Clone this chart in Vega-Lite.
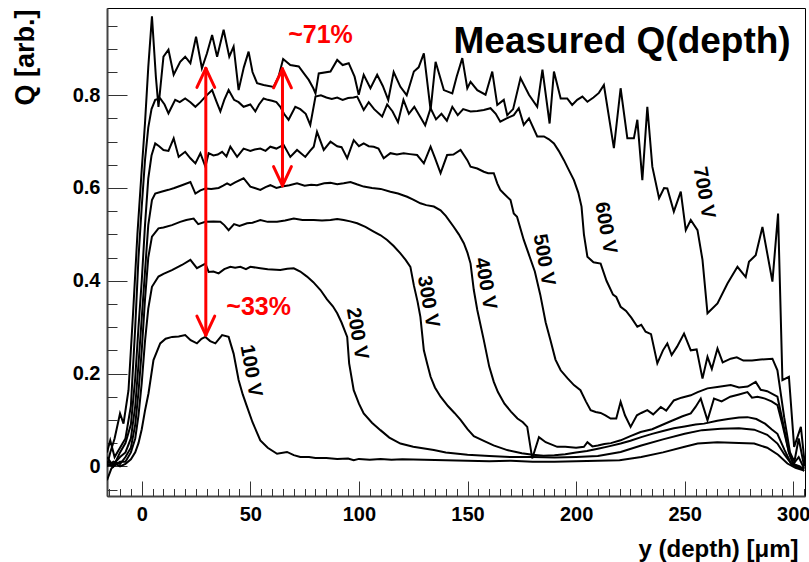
{
  "$schema": "https://vega.github.io/schema/vega-lite/v6.json",
  "width": 698,
  "height": 488,
  "autosize": {"type": "none"},
  "padding": {"left": 107, "top": 8, "right": 4, "bottom": 66},
  "background": "white",
  "config": {"view": {"stroke": "black", "strokeWidth": 1}, "font": "Liberation Sans"},
  "resolve": {"axis": {"x": "independent", "y": "independent"}},
  "datasets": {
    "curves": [
      {"bias":"100 V","depth":-16,"q":-0.03},{"bias":"100 V","depth":-14,"q":-0.005},{"bias":"100 V","depth":-12,"q":0.005},{"bias":"100 V","depth":-10,"q":0.0},{"bias":"100 V","depth":-7.5,"q":0.005},{"bias":"100 V","depth":-5,"q":0.015},{"bias":"100 V","depth":-3,"q":0.03},{"bias":"100 V","depth":-1.5,"q":0.05},{"bias":"100 V","depth":0,"q":0.08},{"bias":"100 V","depth":1.5,"q":0.12},{"bias":"100 V","depth":3.1,"q":0.157},{"bias":"100 V","depth":5.4,"q":0.229},{"bias":"100 V","depth":8.5,"q":0.265},{"bias":"100 V","depth":11,"q":0.275},{"bias":"100 V","depth":14,"q":0.279},{"bias":"100 V","depth":17,"q":0.28},{"bias":"100 V","depth":20,"q":0.283},{"bias":"100 V","depth":22.5,"q":0.272},{"bias":"100 V","depth":25.4,"q":0.265},{"bias":"100 V","depth":27.5,"q":0.275},{"bias":"100 V","depth":29.3,"q":0.279},{"bias":"100 V","depth":31.5,"q":0.27},{"bias":"100 V","depth":33.9,"q":0.265},{"bias":"100 V","depth":37,"q":0.283},{"bias":"100 V","depth":40,"q":0.279},{"bias":"100 V","depth":42.3,"q":0.243},{"bias":"100 V","depth":44.6,"q":0.186},{"bias":"100 V","depth":46.5,"q":0.155},{"bias":"100 V","depth":48.5,"q":0.128},{"bias":"100 V","depth":51,"q":0.095},{"bias":"100 V","depth":54.6,"q":0.056},{"bias":"100 V","depth":58,"q":0.04},{"bias":"100 V","depth":62.3,"q":0.027},{"bias":"100 V","depth":66.9,"q":0.031},{"bias":"100 V","depth":70,"q":0.024},{"bias":"100 V","depth":73,"q":0.02},{"bias":"100 V","depth":77,"q":0.02},{"bias":"100 V","depth":80,"q":0.018},{"bias":"100 V","depth":85,"q":0.018},{"bias":"100 V","depth":90,"q":0.016},{"bias":"100 V","depth":95,"q":0.017},{"bias":"100 V","depth":97.6,"q":0.013},{"bias":"100 V","depth":100,"q":0.016},{"bias":"100 V","depth":105,"q":0.014},{"bias":"100 V","depth":110,"q":0.016},{"bias":"100 V","depth":115,"q":0.014},{"bias":"100 V","depth":120,"q":0.015},{"bias":"100 V","depth":130,"q":0.014},{"bias":"100 V","depth":140,"q":0.013},{"bias":"100 V","depth":150,"q":0.012},{"bias":"100 V","depth":160,"q":0.011},{"bias":"100 V","depth":170,"q":0.012},{"bias":"100 V","depth":180,"q":0.01},{"bias":"100 V","depth":190,"q":0.01},{"bias":"100 V","depth":200,"q":0.011},{"bias":"100 V","depth":210,"q":0.012},{"bias":"100 V","depth":220,"q":0.013},{"bias":"100 V","depth":230,"q":0.02},{"bias":"100 V","depth":240,"q":0.03},{"bias":"100 V","depth":250,"q":0.042},{"bias":"100 V","depth":256,"q":0.049},{"bias":"100 V","depth":265,"q":0.052},{"bias":"100 V","depth":275,"q":0.05},{"bias":"100 V","depth":282,"q":0.049},{"bias":"100 V","depth":288,"q":0.04},{"bias":"100 V","depth":293,"q":0.025},{"bias":"100 V","depth":297.3,"q":0.006},{"bias":"100 V","depth":301,"q":-0.003},{"bias":"100 V","depth":305,"q":-0.009},

      {"bias":"200 V","depth":-16,"q":0.005},{"bias":"200 V","depth":-13,"q":0.0},{"bias":"200 V","depth":-10,"q":0.01},{"bias":"200 V","depth":-7.5,"q":0.01},{"bias":"200 V","depth":-5,"q":0.03},{"bias":"200 V","depth":-3,"q":0.06},{"bias":"200 V","depth":-1.5,"q":0.11},{"bias":"200 V","depth":0,"q":0.18},{"bias":"200 V","depth":1.5,"q":0.27},{"bias":"200 V","depth":3,"q":0.34},{"bias":"200 V","depth":4.7,"q":0.387},{"bias":"200 V","depth":7.7,"q":0.409},{"bias":"200 V","depth":10,"q":0.415},{"bias":"200 V","depth":13.9,"q":0.423},{"bias":"200 V","depth":18.5,"q":0.434},{"bias":"200 V","depth":22.4,"q":0.445},{"bias":"200 V","depth":25.4,"q":0.427},{"bias":"200 V","depth":29.3,"q":0.437},{"bias":"200 V","depth":30.8,"q":0.419},{"bias":"200 V","depth":33,"q":0.42},{"bias":"200 V","depth":35.4,"q":0.416},{"bias":"200 V","depth":38,"q":0.425},{"bias":"200 V","depth":40.8,"q":0.43},{"bias":"200 V","depth":43,"q":0.428},{"bias":"200 V","depth":45.4,"q":0.43},{"bias":"200 V","depth":48,"q":0.425},{"bias":"200 V","depth":50,"q":0.43},{"bias":"200 V","depth":54.6,"q":0.427},{"bias":"200 V","depth":58,"q":0.425},{"bias":"200 V","depth":63.8,"q":0.423},{"bias":"200 V","depth":67,"q":0.426},{"bias":"200 V","depth":70,"q":0.427},{"bias":"200 V","depth":73,"q":0.42},{"bias":"200 V","depth":76.1,"q":0.409},{"bias":"200 V","depth":79,"q":0.397},{"bias":"200 V","depth":82.3,"q":0.38},{"bias":"200 V","depth":85.3,"q":0.36},{"bias":"200 V","depth":88,"q":0.345},{"bias":"200 V","depth":90,"q":0.33},{"bias":"200 V","depth":92,"q":0.31},{"bias":"200 V","depth":94.6,"q":0.279},{"bias":"200 V","depth":95.5,"q":0.222},{"bias":"200 V","depth":97.6,"q":0.164},{"bias":"200 V","depth":100,"q":0.135},{"bias":"200 V","depth":102.2,"q":0.114},{"bias":"200 V","depth":106,"q":0.094},{"bias":"200 V","depth":109.9,"q":0.078},{"bias":"200 V","depth":114,"q":0.062},{"bias":"200 V","depth":119.1,"q":0.049},{"bias":"200 V","depth":125,"q":0.042},{"bias":"200 V","depth":134.5,"q":0.035},{"bias":"200 V","depth":140,"q":0.03},{"bias":"200 V","depth":150,"q":0.025},{"bias":"200 V","depth":160,"q":0.022},{"bias":"200 V","depth":170,"q":0.02},{"bias":"200 V","depth":180,"q":0.02},{"bias":"200 V","depth":190,"q":0.019},{"bias":"200 V","depth":200,"q":0.02},{"bias":"200 V","depth":210,"q":0.022},{"bias":"200 V","depth":220.5,"q":0.031},{"bias":"200 V","depth":230,"q":0.045},{"bias":"200 V","depth":240,"q":0.058},{"bias":"200 V","depth":250,"q":0.07},{"bias":"200 V","depth":258,"q":0.078},{"bias":"200 V","depth":266.6,"q":0.081},{"bias":"200 V","depth":275,"q":0.082},{"bias":"200 V","depth":282,"q":0.079},{"bias":"200 V","depth":288,"q":0.068},{"bias":"200 V","depth":292.7,"q":0.049},{"bias":"200 V","depth":296,"q":0.025},{"bias":"200 V","depth":299,"q":0.006},{"bias":"200 V","depth":302,"q":-0.002},{"bias":"200 V","depth":305,"q":-0.005},

      {"bias":"300 V","depth":-16,"q":0.0},{"bias":"300 V","depth":-13,"q":0.01},{"bias":"300 V","depth":-10,"q":0.005},{"bias":"300 V","depth":-7.5,"q":0.02},{"bias":"300 V","depth":-5,"q":0.04},{"bias":"300 V","depth":-3,"q":0.09},{"bias":"300 V","depth":-1.5,"q":0.16},{"bias":"300 V","depth":0,"q":0.25},{"bias":"300 V","depth":1.5,"q":0.36},{"bias":"300 V","depth":3,"q":0.45},{"bias":"300 V","depth":4.7,"q":0.495},{"bias":"300 V","depth":7.7,"q":0.513},{"bias":"300 V","depth":10,"q":0.515},{"bias":"300 V","depth":13.9,"q":0.52},{"bias":"300 V","depth":17.7,"q":0.527},{"bias":"300 V","depth":20.5,"q":0.531},{"bias":"300 V","depth":23.9,"q":0.534},{"bias":"300 V","depth":26,"q":0.522},{"bias":"300 V","depth":29.3,"q":0.527},{"bias":"300 V","depth":33,"q":0.528},{"bias":"300 V","depth":36.2,"q":0.527},{"bias":"300 V","depth":38,"q":0.52},{"bias":"300 V","depth":40,"q":0.509},{"bias":"300 V","depth":42.5,"q":0.522},{"bias":"300 V","depth":45,"q":0.518},{"bias":"300 V","depth":48.5,"q":0.524},{"bias":"300 V","depth":51,"q":0.525},{"bias":"300 V","depth":54.6,"q":0.531},{"bias":"300 V","depth":58,"q":0.527},{"bias":"300 V","depth":62.3,"q":0.527},{"bias":"300 V","depth":66,"q":0.53},{"bias":"300 V","depth":70,"q":0.534},{"bias":"300 V","depth":74,"q":0.531},{"bias":"300 V","depth":79.2,"q":0.531},{"bias":"300 V","depth":83,"q":0.53},{"bias":"300 V","depth":86.9,"q":0.531},{"bias":"300 V","depth":90,"q":0.533},{"bias":"300 V","depth":93,"q":0.531},{"bias":"300 V","depth":96,"q":0.528},{"bias":"300 V","depth":99.2,"q":0.524},{"bias":"300 V","depth":103,"q":0.516},{"bias":"300 V","depth":106.8,"q":0.506},{"bias":"300 V","depth":110,"q":0.498},{"bias":"300 V","depth":113,"q":0.488},{"bias":"300 V","depth":116,"q":0.475},{"bias":"300 V","depth":119.1,"q":0.459},{"bias":"300 V","depth":121.5,"q":0.445},{"bias":"300 V","depth":123.7,"q":0.43},{"bias":"300 V","depth":125.3,"q":0.39},{"bias":"300 V","depth":127,"q":0.355},{"bias":"300 V","depth":128.3,"q":0.322},{"bias":"300 V","depth":129.9,"q":0.25},{"bias":"300 V","depth":131.5,"q":0.22},{"bias":"300 V","depth":133,"q":0.193},{"bias":"300 V","depth":135,"q":0.17},{"bias":"300 V","depth":137.6,"q":0.15},{"bias":"300 V","depth":141,"q":0.13},{"bias":"300 V","depth":144,"q":0.115},{"bias":"300 V","depth":146.8,"q":0.1},{"bias":"300 V","depth":150,"q":0.08},{"bias":"300 V","depth":152.9,"q":0.065},{"bias":"300 V","depth":157.5,"q":0.055},{"bias":"300 V","depth":162,"q":0.045},{"bias":"300 V","depth":168.3,"q":0.035},{"bias":"300 V","depth":175,"q":0.028},{"bias":"300 V","depth":180,"q":0.025},{"bias":"300 V","depth":185,"q":0.023},{"bias":"300 V","depth":190,"q":0.024},{"bias":"300 V","depth":195,"q":0.026},{"bias":"300 V","depth":200,"q":0.03},{"bias":"300 V","depth":205,"q":0.033},{"bias":"300 V","depth":210,"q":0.038},{"bias":"300 V","depth":215,"q":0.043},{"bias":"300 V","depth":220.5,"q":0.049},{"bias":"300 V","depth":225,"q":0.055},{"bias":"300 V","depth":230,"q":0.063},{"bias":"300 V","depth":235,"q":0.07},{"bias":"300 V","depth":240,"q":0.076},{"bias":"300 V","depth":245,"q":0.082},{"bias":"300 V","depth":250,"q":0.086},{"bias":"300 V","depth":255,"q":0.09},{"bias":"300 V","depth":258.9,"q":0.092},{"bias":"300 V","depth":265,"q":0.098},{"bias":"300 V","depth":270,"q":0.102},{"bias":"300 V","depth":275,"q":0.105},{"bias":"300 V","depth":278.9,"q":0.106},{"bias":"300 V","depth":283,"q":0.102},{"bias":"300 V","depth":287,"q":0.092},{"bias":"300 V","depth":290,"q":0.08},{"bias":"300 V","depth":292.7,"q":0.07},{"bias":"300 V","depth":296,"q":0.035},{"bias":"300 V","depth":299,"q":0.006},{"bias":"300 V","depth":302,"q":0.0},{"bias":"300 V","depth":305,"q":-0.005},

      {"bias":"400 V","depth":-16,"q":0.01},{"bias":"400 V","depth":-13,"q":0.005},{"bias":"400 V","depth":-10,"q":0.02},{"bias":"400 V","depth":-7.5,"q":0.03},{"bias":"400 V","depth":-5,"q":0.06},{"bias":"400 V","depth":-3,"q":0.13},{"bias":"400 V","depth":-1.5,"q":0.22},{"bias":"400 V","depth":0,"q":0.32},{"bias":"400 V","depth":1.5,"q":0.42},{"bias":"400 V","depth":3,"q":0.52},{"bias":"400 V","depth":4.7,"q":0.574},{"bias":"400 V","depth":6.2,"q":0.588},{"bias":"400 V","depth":9,"q":0.592},{"bias":"400 V","depth":12.3,"q":0.596},{"bias":"400 V","depth":15,"q":0.6},{"bias":"400 V","depth":18.5,"q":0.606},{"bias":"400 V","depth":22.4,"q":0.613},{"bias":"400 V","depth":24.7,"q":0.588},{"bias":"400 V","depth":27,"q":0.595},{"bias":"400 V","depth":29.3,"q":0.599},{"bias":"400 V","depth":32,"q":0.598},{"bias":"400 V","depth":35.4,"q":0.6},{"bias":"400 V","depth":37.5,"q":0.605},{"bias":"400 V","depth":39.3,"q":0.61},{"bias":"400 V","depth":40.8,"q":0.606},{"bias":"400 V","depth":43,"q":0.612},{"bias":"400 V","depth":46.9,"q":0.621},{"bias":"400 V","depth":50,"q":0.603},{"bias":"400 V","depth":52,"q":0.6},{"bias":"400 V","depth":54.6,"q":0.596},{"bias":"400 V","depth":57,"q":0.602},{"bias":"400 V","depth":59.2,"q":0.606},{"bias":"400 V","depth":62,"q":0.6},{"bias":"400 V","depth":64.6,"q":0.603},{"bias":"400 V","depth":68,"q":0.606},{"bias":"400 V","depth":71.5,"q":0.61},{"bias":"400 V","depth":75,"q":0.605},{"bias":"400 V","depth":78,"q":0.607},{"bias":"400 V","depth":80.7,"q":0.606},{"bias":"400 V","depth":84,"q":0.61},{"bias":"400 V","depth":86.9,"q":0.611},{"bias":"400 V","depth":90,"q":0.608},{"bias":"400 V","depth":93,"q":0.61},{"bias":"400 V","depth":96.1,"q":0.613},{"bias":"400 V","depth":99,"q":0.608},{"bias":"400 V","depth":102.2,"q":0.603},{"bias":"400 V","depth":106,"q":0.6},{"bias":"400 V","depth":110,"q":0.598},{"bias":"400 V","depth":114.5,"q":0.592},{"bias":"400 V","depth":118,"q":0.588},{"bias":"400 V","depth":122.2,"q":0.581},{"bias":"400 V","depth":125,"q":0.575},{"bias":"400 V","depth":128.3,"q":0.567},{"bias":"400 V","depth":131,"q":0.563},{"bias":"400 V","depth":134.5,"q":0.56},{"bias":"400 V","depth":137.6,"q":0.552},{"bias":"400 V","depth":140,"q":0.54},{"bias":"400 V","depth":143.7,"q":0.516},{"bias":"400 V","depth":146,"q":0.5},{"bias":"400 V","depth":148.3,"q":0.481},{"bias":"400 V","depth":150,"q":0.46},{"bias":"400 V","depth":151.4,"q":0.437},{"bias":"400 V","depth":152.9,"q":0.38},{"bias":"400 V","depth":154.5,"q":0.337},{"bias":"400 V","depth":157.5,"q":0.272},{"bias":"400 V","depth":160,"q":0.215},{"bias":"400 V","depth":162.1,"q":0.182},{"bias":"400 V","depth":164,"q":0.16},{"bias":"400 V","depth":167,"q":0.135},{"bias":"400 V","depth":170,"q":0.118},{"bias":"400 V","depth":173,"q":0.103},{"bias":"400 V","depth":175.5,"q":0.095},{"bias":"400 V","depth":177.5,"q":0.085},{"bias":"400 V","depth":179.8,"q":0.017},{"bias":"400 V","depth":182.9,"q":0.063},{"bias":"400 V","depth":186,"q":0.052},{"bias":"400 V","depth":191.3,"q":0.042},{"bias":"400 V","depth":195,"q":0.042},{"bias":"400 V","depth":200,"q":0.04},{"bias":"400 V","depth":203.6,"q":0.042},{"bias":"400 V","depth":205.2,"q":0.052},{"bias":"400 V","depth":207.5,"q":0.043},{"bias":"400 V","depth":210,"q":0.045},{"bias":"400 V","depth":213,"q":0.048},{"bias":"400 V","depth":216,"q":0.05},{"bias":"400 V","depth":220.5,"q":0.056},{"bias":"400 V","depth":225,"q":0.065},{"bias":"400 V","depth":229.7,"q":0.074},{"bias":"400 V","depth":235,"q":0.08},{"bias":"400 V","depth":239,"q":0.088},{"bias":"400 V","depth":243,"q":0.096},{"bias":"400 V","depth":246,"q":0.102},{"bias":"400 V","depth":249,"q":0.108},{"bias":"400 V","depth":252.8,"q":0.114},{"bias":"400 V","depth":255,"q":0.128},{"bias":"400 V","depth":257.4,"q":0.146},{"bias":"400 V","depth":260.5,"q":0.099},{"bias":"400 V","depth":263.5,"q":0.146},{"bias":"400 V","depth":267,"q":0.14},{"bias":"400 V","depth":271,"q":0.15},{"bias":"400 V","depth":275,"q":0.155},{"bias":"400 V","depth":278.9,"q":0.16},{"bias":"400 V","depth":281,"q":0.148},{"bias":"400 V","depth":283.5,"q":0.15},{"bias":"400 V","depth":287,"q":0.146},{"bias":"400 V","depth":290,"q":0.14},{"bias":"400 V","depth":292.7,"q":0.132},{"bias":"400 V","depth":295,"q":0.09},{"bias":"400 V","depth":298,"q":0.03},{"bias":"400 V","depth":300,"q":0.005},{"bias":"400 V","depth":303,"q":0.0},{"bias":"400 V","depth":305,"q":-0.01},

      {"bias":"500 V","depth":-16,"q":0.02},{"bias":"500 V","depth":-13,"q":0.0},{"bias":"500 V","depth":-10,"q":0.03},{"bias":"500 V","depth":-7.5,"q":0.05},{"bias":"500 V","depth":-5,"q":0.09},{"bias":"500 V","depth":-3,"q":0.19},{"bias":"500 V","depth":-1.5,"q":0.3},{"bias":"500 V","depth":0,"q":0.4},{"bias":"500 V","depth":1.5,"q":0.52},{"bias":"500 V","depth":3,"q":0.62},{"bias":"500 V","depth":4.5,"q":0.67},{"bias":"500 V","depth":6.2,"q":0.696},{"bias":"500 V","depth":8,"q":0.69},{"bias":"500 V","depth":10,"q":0.682},{"bias":"500 V","depth":12.3,"q":0.68},{"bias":"500 V","depth":14.7,"q":0.707},{"bias":"500 V","depth":17,"q":0.667},{"bias":"500 V","depth":20,"q":0.678},{"bias":"500 V","depth":22.4,"q":0.664},{"bias":"500 V","depth":24.7,"q":0.653},{"bias":"500 V","depth":27,"q":0.675},{"bias":"500 V","depth":29.3,"q":0.646},{"bias":"500 V","depth":30.8,"q":0.675},{"bias":"500 V","depth":33,"q":0.67},{"bias":"500 V","depth":35,"q":0.672},{"bias":"500 V","depth":37,"q":0.678},{"bias":"500 V","depth":39,"q":0.668},{"bias":"500 V","depth":40.8,"q":0.689},{"bias":"500 V","depth":43.9,"q":0.667},{"bias":"500 V","depth":46.9,"q":0.685},{"bias":"500 V","depth":50,"q":0.68},{"bias":"500 V","depth":52,"q":0.683},{"bias":"500 V","depth":54.6,"q":0.685},{"bias":"500 V","depth":57,"q":0.68},{"bias":"500 V","depth":59.2,"q":0.689},{"bias":"500 V","depth":62,"q":0.685},{"bias":"500 V","depth":65.3,"q":0.693},{"bias":"500 V","depth":68.4,"q":0.667},{"bias":"500 V","depth":71.5,"q":0.682},{"bias":"500 V","depth":75.3,"q":0.667},{"bias":"500 V","depth":77.5,"q":0.68},{"bias":"500 V","depth":79.2,"q":0.689},{"bias":"500 V","depth":80.7,"q":0.721},{"bias":"500 V","depth":83.8,"q":0.682},{"bias":"500 V","depth":86.9,"q":0.7},{"bias":"500 V","depth":90,"q":0.69},{"bias":"500 V","depth":92,"q":0.688},{"bias":"500 V","depth":94.6,"q":0.664},{"bias":"500 V","depth":97.6,"q":0.703},{"bias":"500 V","depth":100,"q":0.69},{"bias":"500 V","depth":102.2,"q":0.696},{"bias":"500 V","depth":104.5,"q":0.69},{"bias":"500 V","depth":106.8,"q":0.689},{"bias":"500 V","depth":109,"q":0.685},{"bias":"500 V","depth":111.4,"q":0.664},{"bias":"500 V","depth":114.5,"q":0.675},{"bias":"500 V","depth":117.5,"q":0.672},{"bias":"500 V","depth":120.6,"q":0.675},{"bias":"500 V","depth":123.5,"q":0.673},{"bias":"500 V","depth":126.8,"q":0.671},{"bias":"500 V","depth":129.9,"q":0.653},{"bias":"500 V","depth":133,"q":0.689},{"bias":"500 V","depth":135,"q":0.665},{"bias":"500 V","depth":137.6,"q":0.632},{"bias":"500 V","depth":140.6,"q":0.671},{"bias":"500 V","depth":143.5,"q":0.672},{"bias":"500 V","depth":146.8,"q":0.682},{"bias":"500 V","depth":149.9,"q":0.66},{"bias":"500 V","depth":151.4,"q":0.646},{"bias":"500 V","depth":154.5,"q":0.642},{"bias":"500 V","depth":157.5,"q":0.635},{"bias":"500 V","depth":159.5,"q":0.632},{"bias":"500 V","depth":162.1,"q":0.632},{"bias":"500 V","depth":163.7,"q":0.61},{"bias":"500 V","depth":165.1,"q":0.596},{"bias":"500 V","depth":166.7,"q":0.588},{"bias":"500 V","depth":169.8,"q":0.574},{"bias":"500 V","depth":171.3,"q":0.545},{"bias":"500 V","depth":172.8,"q":0.538},{"bias":"500 V","depth":175.9,"q":0.488},{"bias":"500 V","depth":178,"q":0.46},{"bias":"500 V","depth":181,"q":0.42},{"bias":"500 V","depth":183.5,"q":0.37},{"bias":"500 V","depth":186,"q":0.31},{"bias":"500 V","depth":188.2,"q":0.272},{"bias":"500 V","depth":190.5,"q":0.23},{"bias":"500 V","depth":192.9,"q":0.207},{"bias":"500 V","depth":196,"q":0.19},{"bias":"500 V","depth":199,"q":0.175},{"bias":"500 V","depth":202,"q":0.164},{"bias":"500 V","depth":204.5,"q":0.14},{"bias":"500 V","depth":206.7,"q":0.121},{"bias":"500 V","depth":209,"q":0.117},{"bias":"500 V","depth":211.3,"q":0.115},{"bias":"500 V","depth":213.5,"q":0.11},{"bias":"500 V","depth":215.9,"q":0.103},{"bias":"500 V","depth":218.5,"q":0.103},{"bias":"500 V","depth":220.5,"q":0.139},{"bias":"500 V","depth":222.5,"q":0.11},{"bias":"500 V","depth":225.1,"q":0.085},{"bias":"500 V","depth":228,"q":0.11},{"bias":"500 V","depth":230,"q":0.115},{"bias":"500 V","depth":232.8,"q":0.121},{"bias":"500 V","depth":235.5,"q":0.112},{"bias":"500 V","depth":239,"q":0.128},{"bias":"500 V","depth":241.5,"q":0.12},{"bias":"500 V","depth":245,"q":0.142},{"bias":"500 V","depth":248.5,"q":0.148},{"bias":"500 V","depth":252.8,"q":0.153},{"bias":"500 V","depth":256,"q":0.16},{"bias":"500 V","depth":260.5,"q":0.168},{"bias":"500 V","depth":265,"q":0.171},{"bias":"500 V","depth":271.2,"q":0.175},{"bias":"500 V","depth":275,"q":0.17},{"bias":"500 V","depth":279,"q":0.172},{"bias":"500 V","depth":282.7,"q":0.182},{"bias":"500 V","depth":285,"q":0.165},{"bias":"500 V","depth":288,"q":0.162},{"bias":"500 V","depth":292.7,"q":0.15},{"bias":"500 V","depth":295,"q":0.1},{"bias":"500 V","depth":298,"q":0.03},{"bias":"500 V","depth":300,"q":0.005},{"bias":"500 V","depth":302.5,"q":0.02},{"bias":"500 V","depth":305,"q":-0.005},

      {"bias":"600 V","depth":-16,"q":0.03},{"bias":"600 V","depth":-14.5,"q":0.056},{"bias":"600 V","depth":-12.5,"q":0.02},{"bias":"600 V","depth":-10,"q":0.04},{"bias":"600 V","depth":-7.5,"q":0.06},{"bias":"600 V","depth":-5,"q":0.13},{"bias":"600 V","depth":-3,"q":0.3},{"bias":"600 V","depth":-1.5,"q":0.45},{"bias":"600 V","depth":0,"q":0.56},{"bias":"600 V","depth":1.5,"q":0.66},{"bias":"600 V","depth":3,"q":0.73},{"bias":"600 V","depth":4.5,"q":0.77},{"bias":"600 V","depth":6.2,"q":0.79},{"bias":"600 V","depth":8.5,"q":0.793},{"bias":"600 V","depth":10.5,"q":0.78},{"bias":"600 V","depth":12.3,"q":0.761},{"bias":"600 V","depth":15.4,"q":0.79},{"bias":"600 V","depth":17.5,"q":0.785},{"bias":"600 V","depth":20,"q":0.793},{"bias":"600 V","depth":22.4,"q":0.785},{"bias":"600 V","depth":24.7,"q":0.775},{"bias":"600 V","depth":27,"q":0.785},{"bias":"600 V","depth":29.3,"q":0.797},{"bias":"600 V","depth":32.4,"q":0.811},{"bias":"600 V","depth":34.5,"q":0.785},{"bias":"600 V","depth":36.2,"q":0.765},{"bias":"600 V","depth":38,"q":0.79},{"bias":"600 V","depth":40,"q":0.811},{"bias":"600 V","depth":42.5,"q":0.79},{"bias":"600 V","depth":44.6,"q":0.785},{"bias":"600 V","depth":46.9,"q":0.775},{"bias":"600 V","depth":50,"q":0.78},{"bias":"600 V","depth":52.3,"q":0.765},{"bias":"600 V","depth":54,"q":0.78},{"bias":"600 V","depth":56.1,"q":0.793},{"bias":"600 V","depth":58,"q":0.79},{"bias":"600 V","depth":60,"q":0.788},{"bias":"600 V","depth":62,"q":0.785},{"bias":"600 V","depth":63.8,"q":0.775},{"bias":"600 V","depth":65.5,"q":0.76},{"bias":"600 V","depth":67.6,"q":0.747},{"bias":"600 V","depth":70.7,"q":0.775},{"bias":"600 V","depth":73,"q":0.77},{"bias":"600 V","depth":75.5,"q":0.76},{"bias":"600 V","depth":77.6,"q":0.736},{"bias":"600 V","depth":80,"q":0.797},{"bias":"600 V","depth":82.5,"q":0.8},{"bias":"600 V","depth":85,"q":0.795},{"bias":"600 V","depth":87.5,"q":0.792},{"bias":"600 V","depth":90,"q":0.795},{"bias":"600 V","depth":92.5,"q":0.79},{"bias":"600 V","depth":95,"q":0.794},{"bias":"600 V","depth":97.5,"q":0.795},{"bias":"600 V","depth":99.2,"q":0.797},{"bias":"600 V","depth":102.2,"q":0.768},{"bias":"600 V","depth":104.5,"q":0.785},{"bias":"600 V","depth":107,"q":0.77},{"bias":"600 V","depth":110.7,"q":0.754},{"bias":"600 V","depth":113,"q":0.78},{"bias":"600 V","depth":115.5,"q":0.765},{"bias":"600 V","depth":118,"q":0.742},{"bias":"600 V","depth":120.5,"q":0.79},{"bias":"600 V","depth":123,"q":0.76},{"bias":"600 V","depth":125.5,"q":0.775},{"bias":"600 V","depth":128,"q":0.755},{"bias":"600 V","depth":130.5,"q":0.735},{"bias":"600 V","depth":133,"q":0.772},{"bias":"600 V","depth":135.5,"q":0.748},{"bias":"600 V","depth":138,"q":0.76},{"bias":"600 V","depth":140.5,"q":0.745},{"bias":"600 V","depth":143,"q":0.775},{"bias":"600 V","depth":145.5,"q":0.757},{"bias":"600 V","depth":148,"q":0.77},{"bias":"600 V","depth":151.4,"q":0.765},{"bias":"600 V","depth":154.5,"q":0.766},{"bias":"600 V","depth":157.5,"q":0.768},{"bias":"600 V","depth":160.6,"q":0.772},{"bias":"600 V","depth":163,"q":0.76},{"bias":"600 V","depth":165.1,"q":0.743},{"bias":"600 V","depth":168,"q":0.75},{"bias":"600 V","depth":171.3,"q":0.757},{"bias":"600 V","depth":173.6,"q":0.772},{"bias":"600 V","depth":175.9,"q":0.736},{"bias":"600 V","depth":178.3,"q":0.75},{"bias":"600 V","depth":182.1,"q":0.711},{"bias":"600 V","depth":185.2,"q":0.711},{"bias":"600 V","depth":187.5,"q":0.705},{"bias":"600 V","depth":189.8,"q":0.696},{"bias":"600 V","depth":192,"q":0.68},{"bias":"600 V","depth":194.4,"q":0.66},{"bias":"600 V","depth":196.5,"q":0.64},{"bias":"600 V","depth":199,"q":0.617},{"bias":"600 V","depth":201,"q":0.59},{"bias":"600 V","depth":202.5,"q":0.56},{"bias":"600 V","depth":203.6,"q":0.5},{"bias":"600 V","depth":205.2,"q":0.452},{"bias":"600 V","depth":208,"q":0.44},{"bias":"600 V","depth":211.3,"q":0.437},{"bias":"600 V","depth":214,"q":0.4},{"bias":"600 V","depth":217,"q":0.37},{"bias":"600 V","depth":218.5,"q":0.365},{"bias":"600 V","depth":220.5,"q":0.344},{"bias":"600 V","depth":223,"q":0.335},{"bias":"600 V","depth":225.5,"q":0.32},{"bias":"600 V","depth":228.2,"q":0.301},{"bias":"600 V","depth":230,"q":0.305},{"bias":"600 V","depth":232,"q":0.29},{"bias":"600 V","depth":234.5,"q":0.285},{"bias":"600 V","depth":237.4,"q":0.222},{"bias":"600 V","depth":240,"q":0.25},{"bias":"600 V","depth":242,"q":0.265},{"bias":"600 V","depth":244,"q":0.24},{"bias":"600 V","depth":246.5,"q":0.258},{"bias":"600 V","depth":249.7,"q":0.286},{"bias":"600 V","depth":252.8,"q":0.25},{"bias":"600 V","depth":255.5,"q":0.252},{"bias":"600 V","depth":258.2,"q":0.189},{"bias":"600 V","depth":260.5,"q":0.236},{"bias":"600 V","depth":262.5,"q":0.21},{"bias":"600 V","depth":265.1,"q":0.254},{"bias":"600 V","depth":267.5,"q":0.224},{"bias":"600 V","depth":271.2,"q":0.232},{"bias":"600 V","depth":274,"q":0.235},{"bias":"600 V","depth":277,"q":0.228},{"bias":"600 V","depth":281,"q":0.228},{"bias":"600 V","depth":285,"q":0.23},{"bias":"600 V","depth":290.4,"q":0.232},{"bias":"600 V","depth":292.7,"q":0.207},{"bias":"600 V","depth":295.8,"q":0.106},{"bias":"600 V","depth":298.5,"q":0.03},{"bias":"600 V","depth":300.5,"q":0.01},{"bias":"600 V","depth":302.5,"q":0.06},{"bias":"600 V","depth":305,"q":0.0},

      {"bias":"700 V","depth":-16,"q":0.0},{"bias":"700 V","depth":-14.5,"q":0.03},{"bias":"700 V","depth":-12.5,"q":0.06},{"bias":"700 V","depth":-10,"q":0.114},{"bias":"700 V","depth":-8.4,"q":0.092},{"bias":"700 V","depth":-6.1,"q":0.164},{"bias":"700 V","depth":-4,"q":0.33},{"bias":"700 V","depth":-2,"q":0.5},{"bias":"700 V","depth":0,"q":0.64},{"bias":"700 V","depth":1.5,"q":0.74},{"bias":"700 V","depth":3,"q":0.86},{"bias":"700 V","depth":4.7,"q":0.97},{"bias":"700 V","depth":6.5,"q":0.84},{"bias":"700 V","depth":7.7,"q":0.775},{"bias":"700 V","depth":10,"q":0.883},{"bias":"700 V","depth":12.3,"q":0.898},{"bias":"700 V","depth":14.7,"q":0.844},{"bias":"700 V","depth":17.7,"q":0.872},{"bias":"700 V","depth":20,"q":0.883},{"bias":"700 V","depth":22.4,"q":0.869},{"bias":"700 V","depth":25,"q":0.926},{"bias":"700 V","depth":27.7,"q":0.858},{"bias":"700 V","depth":30,"q":0.89},{"bias":"700 V","depth":32.4,"q":0.93},{"bias":"700 V","depth":34.7,"q":0.883},{"bias":"700 V","depth":37.7,"q":0.941},{"bias":"700 V","depth":40.3,"q":0.883},{"bias":"700 V","depth":42.3,"q":0.905},{"bias":"700 V","depth":44.6,"q":0.811},{"bias":"700 V","depth":47,"q":0.86},{"bias":"700 V","depth":49.2,"q":0.894},{"bias":"700 V","depth":51,"q":0.85},{"bias":"700 V","depth":53.1,"q":0.826},{"bias":"700 V","depth":56.1,"q":0.822},{"bias":"700 V","depth":60.7,"q":0.818},{"bias":"700 V","depth":63,"q":0.84},{"bias":"700 V","depth":65.1,"q":0.878},{"bias":"700 V","depth":68.4,"q":0.865},{"bias":"700 V","depth":72.3,"q":0.862},{"bias":"700 V","depth":75,"q":0.845},{"bias":"700 V","depth":76.9,"q":0.833},{"bias":"700 V","depth":79,"q":0.815},{"bias":"700 V","depth":80,"q":0.804},{"bias":"700 V","depth":81.5,"q":0.847},{"bias":"700 V","depth":86.9,"q":0.851},{"bias":"700 V","depth":90,"q":0.876},{"bias":"700 V","depth":92.5,"q":0.865},{"bias":"700 V","depth":95.3,"q":0.869},{"bias":"700 V","depth":98,"q":0.84},{"bias":"700 V","depth":99.9,"q":0.801},{"bias":"700 V","depth":102.2,"q":0.844},{"bias":"700 V","depth":105.3,"q":0.815},{"bias":"700 V","depth":108.4,"q":0.844},{"bias":"700 V","depth":111,"q":0.82},{"bias":"700 V","depth":113.5,"q":0.79},{"bias":"700 V","depth":116,"q":0.85},{"bias":"700 V","depth":119.1,"q":0.818},{"bias":"700 V","depth":122,"q":0.8},{"bias":"700 V","depth":125.3,"q":0.851},{"bias":"700 V","depth":127.5,"q":0.86},{"bias":"700 V","depth":129.9,"q":0.89},{"bias":"700 V","depth":133,"q":0.768},{"bias":"700 V","depth":135.3,"q":0.872},{"bias":"700 V","depth":139.1,"q":0.811},{"bias":"700 V","depth":143,"q":0.804},{"bias":"700 V","depth":145,"q":0.84},{"bias":"700 V","depth":147.6,"q":0.88},{"bias":"700 V","depth":149.9,"q":0.815},{"bias":"700 V","depth":151.4,"q":0.829},{"bias":"700 V","depth":154.5,"q":0.811},{"bias":"700 V","depth":158.3,"q":0.801},{"bias":"700 V","depth":161.4,"q":0.851},{"bias":"700 V","depth":163.7,"q":0.779},{"bias":"700 V","depth":166.7,"q":0.79},{"bias":"700 V","depth":168.3,"q":0.757},{"bias":"700 V","depth":171,"q":0.77},{"bias":"700 V","depth":174.4,"q":0.837},{"bias":"700 V","depth":178.3,"q":0.801},{"bias":"700 V","depth":182.1,"q":0.775},{"bias":"700 V","depth":184.5,"q":0.855},{"bias":"700 V","depth":187.8,"q":0.739},{"bias":"700 V","depth":189.8,"q":0.851},{"bias":"700 V","depth":192.9,"q":0.793},{"bias":"700 V","depth":195.9,"q":0.793},{"bias":"700 V","depth":198.2,"q":0.779},{"bias":"700 V","depth":200.5,"q":0.79},{"bias":"700 V","depth":202.9,"q":0.797},{"bias":"700 V","depth":205.2,"q":0.786},{"bias":"700 V","depth":208,"q":0.795},{"bias":"700 V","depth":210.5,"q":0.805},{"bias":"700 V","depth":212.8,"q":0.822},{"bias":"700 V","depth":217.4,"q":0.686},{"bias":"700 V","depth":220.5,"q":0.815},{"bias":"700 V","depth":223.6,"q":0.707},{"bias":"700 V","depth":226.6,"q":0.707},{"bias":"700 V","depth":228.2,"q":0.747},{"bias":"700 V","depth":230.5,"q":0.617},{"bias":"700 V","depth":232.8,"q":0.775},{"bias":"700 V","depth":235.1,"q":0.646},{"bias":"700 V","depth":238.2,"q":0.578},{"bias":"700 V","depth":240.5,"q":0.6},{"bias":"700 V","depth":242,"q":0.599},{"bias":"700 V","depth":245,"q":0.549},{"bias":"700 V","depth":248.2,"q":0.592},{"bias":"700 V","depth":250.5,"q":0.509},{"bias":"700 V","depth":252.8,"q":0.531},{"bias":"700 V","depth":255.9,"q":0.509},{"bias":"700 V","depth":258.2,"q":0.445},{"bias":"700 V","depth":260.5,"q":0.33},{"bias":"700 V","depth":265.1,"q":0.351},{"bias":"700 V","depth":269.7,"q":0.394},{"bias":"700 V","depth":274.3,"q":0.43},{"bias":"700 V","depth":278.1,"q":0.408},{"bias":"700 V","depth":279.6,"q":0.441},{"bias":"700 V","depth":282.7,"q":0.455},{"bias":"700 V","depth":285.8,"q":0.516},{"bias":"700 V","depth":290.4,"q":0.398},{"bias":"700 V","depth":293,"q":0.545},{"bias":"700 V","depth":295,"q":0.186},{"bias":"700 V","depth":298,"q":0.193},{"bias":"700 V","depth":300.4,"q":0.042},{"bias":"700 V","depth":303.5,"q":0.085},{"bias":"700 V","depth":305.4,"q":0.0}
    ],
    "arrows": [
      {"depth":29.5,"q":0.283,"depth2":29.5,"q2":0.858},
      {"depth":29.5,"q":0.858,"depth2":25.4,"q2":0.817},
      {"depth":29.5,"q":0.858,"depth2":33.6,"q2":0.817},
      {"depth":29.5,"q":0.283,"depth2":25.4,"q2":0.324},
      {"depth":29.5,"q":0.283,"depth2":33.6,"q2":0.324},
      {"depth":64.8,"q":0.605,"depth2":64.8,"q2":0.857},
      {"depth":64.8,"q":0.857,"depth2":60.7,"q2":0.816},
      {"depth":64.8,"q":0.857,"depth2":68.9,"q2":0.816},
      {"depth":64.8,"q":0.605,"depth2":60.7,"q2":0.646},
      {"depth":64.8,"q":0.605,"depth2":68.9,"q2":0.646}
    ],
    "curveLabels": [
      {"label":"100 V","depth":50.3,"q":0.206},
      {"label":"200 V","depth":99.2,"q":0.286},
      {"label":"300 V","depth":131.9,"q":0.355},
      {"label":"400 V","depth":158.3,"q":0.394},
      {"label":"500 V","depth":185.2,"q":0.445},
      {"label":"600 V","depth":213.6,"q":0.514},
      {"label":"700 V","depth":258.9,"q":0.59}
    ],
    "notes": [
      {"label":"~71%","depth":82.3,"q":0.912},
      {"label":"~33%","depth":53.8,"q":0.326}
    ],
    "heading": [
      {"label":"Measured Q(depth)","depth":298.8,"q":0.891}
    ]
  },
  "layer": [
    {
      "data": {"name": "curves"},
      "mark": {"type": "line", "color": "black", "strokeWidth": 2, "clip": true, "strokeJoin": "miter", "interpolate": "linear"},
      "encoding": {
        "x": {
          "field": "depth", "type": "quantitative",
          "scale": {"domain": [-16, 305.4], "nice": false, "zero": false},
          "axis": {
            "orient": "bottom",
            "title": "y (depth) [μm]",
            "values": [0, 50, 100, 150, 200, 250, 300],
            "format": "d",
            "tickSize": -15,
            "tickColor": "#333", "tickWidth": 1,
            "labelFont": "Liberation Sans", "labelFontWeight": "bold", "labelFontSize": 20, "labelColor": "black",
            "labelPadding": 23, "labelFlush": false, "labelOverlap": false, "labelBound": false,
            "domainColor": "#444", "domainWidth": 2, "grid": false,
            "titleFont": "Liberation Sans", "titleFontSize": 24, "titleFontWeight": "bold", "titleColor": "black",
            "titleAnchor": "end", "titleAlign": "right", "titleBaseline": "alphabetic", "titleX": 691, "titleY": 60
          }
        },
        "y": {
          "field": "q", "type": "quantitative",
          "scale": {"domain": [-0.064, 0.988], "nice": false, "zero": false},
          "axis": {
            "orient": "left",
            "title": "Q [arb.]",
            "values": [0, 0.2, 0.4, 0.6, 0.8],
            "labelExpr": "datum.value == 0 ? '0' : format(datum.value, '.1f')",
            "tickSize": -20,
            "tickColor": "#333", "tickWidth": 1,
            "labelFont": "Liberation Sans", "labelFontWeight": "bold", "labelFontSize": 20, "labelColor": "black",
            "labelPadding": 27, "labelFlush": false, "labelOverlap": false, "labelBound": false,
            "domainColor": "#444", "domainWidth": 2, "grid": false,
            "titleFont": "Liberation Sans", "titleFontSize": 27, "titleFontWeight": "bold", "titleColor": "black",
            "titleAnchor": "end", "titleAlign": "right", "titleAngle": -90, "titleBaseline": "middle", "titleX": -82, "titleY": 1
          }
        },
        "detail": {"field": "bias", "type": "nominal"},
        "order": {"field": "depth", "type": "quantitative"}
      }
    },
    {
      "data": {"name": "arrows"},
      "mark": {"type": "rule", "color": "#ff0000", "strokeWidth": 3, "strokeCap": "round"},
      "encoding": {
        "x": {
          "field": "depth", "type": "quantitative",
          "axis": {
            "orient": "bottom", "title": null, "labels": false, "domain": false, "grid": false,
            "values": [-15,-10,-5,5,10,15,20,25,30,35,40,45,55,60,65,70,75,80,85,90,95,105,110,115,120,125,130,135,140,145,155,160,165,170,175,180,185,190,195,205,210,215,220,225,230,235,240,245,255,260,265,270,275,280,285,290,295,305],
            "tickSize": -7.5, "tickColor": "#333", "tickWidth": 1
          }
        },
        "y": {
          "field": "q", "type": "quantitative",
          "axis": {
            "orient": "left", "title": null, "labels": false, "domain": false, "grid": false,
            "values": [-0.05,0.05,0.1,0.15,0.25,0.3,0.35,0.45,0.5,0.55,0.65,0.7,0.75,0.85,0.9,0.95],
            "tickSize": -10, "tickColor": "#333", "tickWidth": 1
          }
        },
        "x2": {"field": "depth2"},
        "y2": {"field": "q2"}
      }
    },
    {
      "data": {"name": "curveLabels"},
      "mark": {"type": "text", "angle": 80, "font": "Liberation Sans", "fontWeight": "bold", "fontSize": 20, "color": "black", "align": "center", "baseline": "middle"},
      "encoding": {
        "x": {"field": "depth", "type": "quantitative", "axis": null},
        "y": {"field": "q", "type": "quantitative", "axis": null},
        "text": {"field": "label"}
      }
    },
    {
      "data": {"name": "notes"},
      "mark": {"type": "text", "font": "Liberation Sans", "fontWeight": "bold", "fontSize": 25, "color": "#ff0000", "align": "center", "baseline": "alphabetic"},
      "encoding": {
        "x": {"field": "depth", "type": "quantitative", "axis": null},
        "y": {"field": "q", "type": "quantitative", "axis": null},
        "text": {"field": "label"}
      }
    },
    {
      "data": {"name": "heading"},
      "mark": {"type": "text", "font": "Liberation Sans", "fontWeight": "bold", "fontSize": 37, "color": "black", "align": "right", "baseline": "alphabetic"},
      "encoding": {
        "x": {"field": "depth", "type": "quantitative", "axis": null},
        "y": {"field": "q", "type": "quantitative", "axis": null},
        "text": {"field": "label"}
      }
    }
  ]
}
